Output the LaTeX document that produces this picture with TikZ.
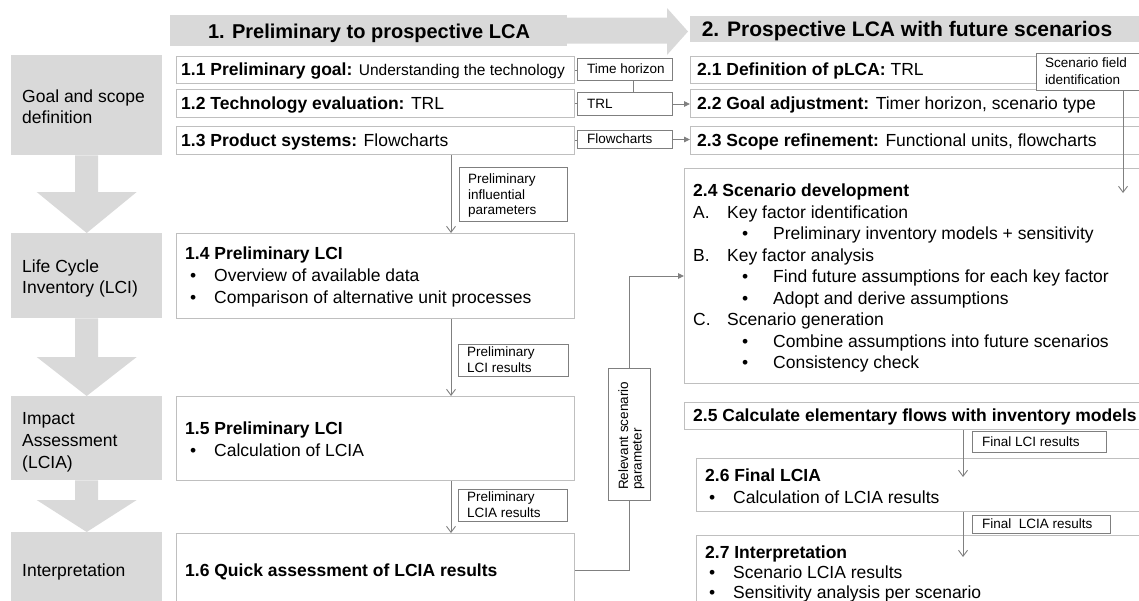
\documentclass[tikz,border=0pt]{standalone}
\usepackage{fontspec}
\setmainfont{Liberation Sans}
\usetikzlibrary{arrows.meta,calc}
\definecolor{stagegray}{HTML}{D9D9D9}
\definecolor{boxline}{HTML}{BFBFBF}
\definecolor{lblline}{HTML}{7F7F7F}
\definecolor{connline}{HTML}{808080}
\newcommand\fbig{\fontsize{17.5}{21}\selectfont}
\newcommand\fhead{\fontsize{20}{24}\selectfont}
\newcommand\fheadb{\fontsize{21}{25}\selectfont}
\newcommand\fsmall{\fontsize{13.5}{16}\selectfont}
\newcommand\fmid{\fontsize{15.5}{18}\selectfont}
\newcommand\stagearrow[3]{%
  \fill[stagegray] ([xshift=-11.5pt]#1.south) -- ([xshift=11.5pt]#1.south)
    -- ([xshift=11.5pt,yshift=#3]#2.north) -- ([xshift=50pt,yshift=#3]#2.north)
    -- (#2.north) -- ([xshift=-50pt,yshift=#3]#2.north)
    -- ([xshift=-11.5pt,yshift=#3]#2.north) -- cycle;}
\begin{document}
\begin{tikzpicture}[x=1pt,y=-1pt,
  stage/.style={fill=stagegray, inner sep=0pt, anchor=north west},
  mainbox/.style={draw=boxline, line width=1pt, fill=white, inner sep=0pt, anchor=north west},
  lblbox/.style={draw=lblline, line width=1pt, fill=white, inner sep=0pt, anchor=north west},
  txt/.style={inner sep=0pt, anchor=base west, font=\fbig},
  lbl/.style={inner sep=0pt, anchor=base west, font=\fsmall},
  conn/.style={draw=connline, line width=0.9pt},
  arrV/.style={-{Straight Barb[length=6pt,width=9pt]}},
  arrT/.style={-{Triangle[length=6pt,width=5.5pt]}},
]
\useasboundingbox (0,0) rectangle (1139,600);

% header
\node[stage, minimum width=397pt, minimum height=31pt] (h1) at (170,15) {};
\fill[stagegray] (566,17.5) -- (667,17.5) -- (667,8) -- (688,31.5) -- (667,55) -- (667,43.5) -- (566,43.5) -- cycle;
\node[stage, minimum width=460pt, minimum height=26pt] (h2) at (690,16) {};
\node[inner sep=0pt, anchor=base, font=\fhead\bfseries] (h1t) at (369,38) {1. Preliminary to prospective LCA};
\node[inner sep=0pt, anchor=base, font=\fheadb\bfseries] (h2t) at (907,36.5) {2. Prospective LCA with future scenarios};

% stage column
\node[stage, minimum width=151pt, minimum height=100pt] (gs) at (11,55) {};
\node[txt] (gst1) at (22,102) {Goal and scope};
\node[txt] (gst2) at (22,123) {definition};
\node[stage, minimum width=151pt, minimum height=85pt] (lci) at (11,233) {};
\node[txt] (lcit1) at (22,272) {Life Cycle};
\node[txt] (lcit2) at (22,293) {Inventory (LCI)};
\node[stage, minimum width=151pt, minimum height=84pt] (lcia) at (11,396) {};
\node[txt] (lciat1) at (22,424) {Impact};
\node[txt] (lciat2) at (22,446) {Assessment};
\node[txt] (lciat3) at (22,468) {(LCIA)};
\node[stage, minimum width=151pt, minimum height=80pt] (interp) at (11,532) {};
\node[txt] (interpt) at (22,576) {Interpretation};
\stagearrow{gs}{lci}{41}
\stagearrow{lci}{lcia}{39}
\stagearrow{lcia}{interp}{32}

% part 1 boxes
\node[mainbox, minimum width=398pt, minimum height=27pt] (b11) at (176,56) {};
\node[txt] (t11) at (181,75.8) {\textbf{1.1 Preliminary goal:} {\fmid Understanding the technology}};
\node[mainbox, minimum width=398pt, minimum height=28pt] (b12) at (176,89) {};
\node[txt] (t12) at (181,109.3) {\textbf{1.2 Technology evaluation:} TRL};
\node[mainbox, minimum width=398pt, minimum height=28pt] (b13) at (176,126) {};
\node[txt] (t13) at (181,146.3) {\textbf{1.3 Product systems:} Flowcharts};
\node[mainbox, minimum width=398pt, minimum height=85pt] (b14) at (176,233) {};
\node[txt] (t14) at (185,259.3) {\textbf{1.4 Preliminary LCI}};
\node[txt] (t14a) at (190,281) {•};
\node[txt] (t14b) at (214,281) {Overview of available data};
\node[txt] (t14c) at (190,303) {•};
\node[txt] (t14d) at (214,303) {Comparison of alternative unit processes};
\node[mainbox, minimum width=398pt, minimum height=84pt] (b15) at (176,396) {};
\node[txt] (t15) at (185,434.3) {\textbf{1.5 Preliminary LCI}};
\node[txt] (t15a) at (190,456.3) {•};
\node[txt] (t15b) at (214,456.3) {Calculation of LCIA};
\node[mainbox, minimum width=398pt, minimum height=74pt] (b16) at (176,533) {};
\node[txt] (t16) at (185,576.3) {\textbf{1.6 Quick assessment of LCIA results}};

% part 2 boxes
\node[mainbox, minimum width=460pt, minimum height=27pt] (b21) at (690,56) {};
\node[txt] (t21) at (697,75.8) {\textbf{2.1 Definition of pLCA:} TRL};
\node[mainbox, minimum width=460pt, minimum height=28pt] (b22) at (690,89) {};
\node[txt] (t22) at (697,109.3) {\textbf{2.2 Goal adjustment:} Timer horizon, scenario type};
\node[mainbox, minimum width=460pt, minimum height=28pt] (b23) at (690,126) {};
\node[txt] (t23) at (697,146.3) {\textbf{2.3 Scope refinement:} Functional units, flowcharts};
\node[mainbox, minimum width=466pt, minimum height=215pt] (b24) at (684,168) {};
\node[txt] (t24) at (693,196.5) {\textbf{2.4 Scenario development}};
\node[txt] (t24a) at (693,218) {A.};
\node[txt] (t24b) at (727,218) {Key factor identification};
\node[txt] (t24c) at (742,239.5) {•};
\node[txt] (t24d) at (773,239.5) {Preliminary inventory models + sensitivity};
\node[txt] (t24e) at (693,261) {B.};
\node[txt] (t24f) at (727,261) {Key factor analysis};
\node[txt] (t24g) at (742,282.5) {•};
\node[txt] (t24h) at (773,282.5) {Find future assumptions for each key factor};
\node[txt] (t24i) at (742,304) {•};
\node[txt] (t24j) at (773,304) {Adopt and derive assumptions};
\node[txt] (t24k) at (693,325.5) {C.};
\node[txt] (t24l) at (727,325.5) {Scenario generation};
\node[txt] (t24m) at (742,347) {•};
\node[txt] (t24n) at (773,347) {Combine assumptions into future scenarios};
\node[txt] (t24o) at (742,368.5) {•};
\node[txt] (t24p) at (773,368.5) {Consistency check};
\node[mainbox, minimum width=466pt, minimum height=27pt] (b25) at (684,402) {};
\node[txt] (t25) at (693,421.8) {\textbf{2.5 Calculate elementary flows with inventory models}};
\node[mainbox, minimum width=454pt, minimum height=53pt] (b26) at (696,458) {};
\node[txt] (t26) at (705,481.3) {\textbf{2.6 Final LCIA}};
\node[txt] (t26a) at (709,503.3) {•};
\node[txt] (t26b) at (733,503.3) {Calculation of LCIA results};
\node[mainbox, minimum width=454pt, minimum height=80pt] (b27) at (696,535) {};
\node[txt] (t27) at (705,558.3) {\textbf{2.7 Interpretation}};
\node[txt] (t27a) at (709,578.5) {•};
\node[txt] (t27b) at (733,578.5) {Scenario LCIA results};
\node[txt] (t27c) at (709,598) {•};
\node[txt] (t27d) at (733,598) {Sensitivity analysis per scenario};

% label boxes
\node[lblbox, minimum width=95pt, minimum height=22pt] (th) at (577,58) {};
\node[lbl] (tht) at (587,73.8) {Time horizon};
\node[lblbox, minimum width=95pt, minimum height=23pt] (trl) at (577,92) {};
\node[lbl] (trlt) at (587,108.3) {TRL};
\node[lblbox, minimum width=95pt, minimum height=18pt] (flw) at (577,130) {};
\node[lbl] (flwt) at (587,143.8) {Flowcharts};
\node[lblbox, minimum width=108pt, minimum height=54pt] (pip) at (459,167) {};
\node[lbl] (pipt1) at (468,183.8) {Preliminary};
\node[lbl] (pipt2) at (468,199.3) {influential};
\node[lbl] (pipt3) at (468,214.8) {parameters};
\node[lblbox, minimum width=110pt, minimum height=32pt] (plr) at (458,344) {};
\node[lbl] (plrt1) at (467,356.8) {Preliminary};
\node[lbl] (plrt2) at (467,372.8) {LCI results};
\node[lblbox, minimum width=109pt, minimum height=32pt] (plar) at (458,489) {};
\node[lbl] (plart1) at (467,501.8) {Preliminary};
\node[lbl] (plart2) at (467,517.8) {LCIA results};
\node[lblbox, minimum width=110pt, minimum height=37pt] (sf) at (1036,52.5) {};
\node[lbl] (sft1) at (1045,67.8) {Scenario field};
\node[lbl] (sft2) at (1045,84.8) {identification};
\node[lblbox, minimum width=134pt, minimum height=21pt] (flr) at (972,431) {};
\node[lbl] (flrt) at (982,446.3) {Final LCI results};
\node[lblbox, minimum width=138pt, minimum height=18pt] (flar) at (972,515) {};
\node[lbl] (flart) at (982,528.8) {Final\ \ LCIA results};
\node[lblbox, minimum width=42pt, minimum height=132pt] (rel) at (608,368) {};
\node[lbl, rotate=90] (relt1) at (628,490) {Relevant scenario};
\node[lbl, rotate=90] (relt2) at (641.5,490) {parameter};

% connectors
\coordinate (vx) at (451,0);
\draw[conn,arrV] (b13.south -| vx) -- (b14.north -| vx);
\draw[conn,arrV] (b14.south -| vx) -- (b15.north -| vx);
\draw[conn,arrV] (b15.south -| vx) -- (b16.north -| vx);
\draw[conn] (b11.east) -- (b11.east -| th.west);
\draw[conn] (b12.east) -- (b12.east -| trl.west);
\draw[conn] (b13.east) -- (b13.east -| flw.west);
\coordinate (thx) at (633,0);
\draw[conn] (th.south -| thx) -- (trl.north -| thx);
\draw[conn,arrT] (trl.east) -- (trl.east -| b22.west);
\draw[conn,arrT] (flw.east) -- (flw.east -| b23.west);
\draw[conn] (b16.east) -| (rel.south);
\draw[conn,arrT] (rel.north) |- (b24.west);
\coordinate (sfend) at (1123,193);
\draw[conn,arrV] (sf.south -| sfend) -- (sfend);
\coordinate (e26) at (963,477);
\coordinate (e27) at (963,557);
\draw[conn,arrV] (b25.south -| e26) -- (e26);
\draw[conn,arrV] (b26.south -| e27) -- (e27);
\end{tikzpicture}
\end{document}
